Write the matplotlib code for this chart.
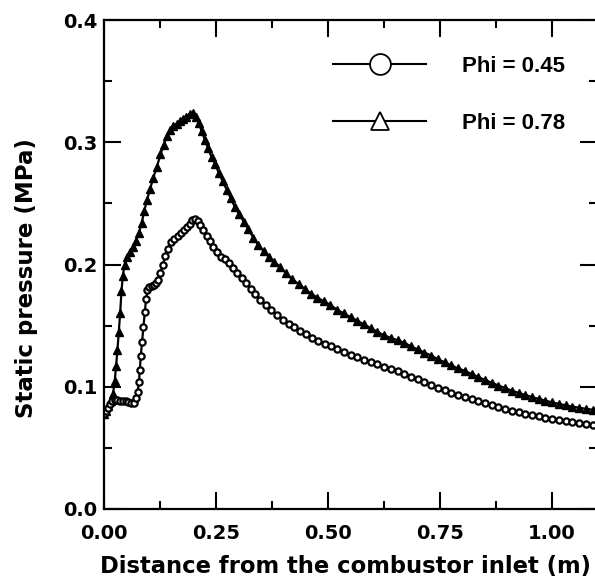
import matplotlib
matplotlib.use("Agg")
import matplotlib.pyplot as plt
from matplotlib.lines import Line2D
from matplotlib.ticker import MultipleLocator

# Phi = 0.78 (triangles, upper curve)
x_078 = [0.000, 0.005, 0.010, 0.015, 0.020, 0.024, 0.027, 0.030, 0.033, 0.036,
         0.039, 0.042, 0.046, 0.051, 0.057, 0.064, 0.071, 0.078, 0.084, 0.090,
         0.096, 0.103, 0.110, 0.118, 0.126, 0.133, 0.140, 0.148, 0.155, 0.162,
         0.170, 0.177, 0.184, 0.191, 0.198, 0.205, 0.211, 0.218, 0.225, 0.232,
         0.240, 0.248, 0.256, 0.265, 0.274, 0.283, 0.292, 0.302, 0.312, 0.322,
         0.333, 0.344, 0.356, 0.368, 0.380, 0.393, 0.406, 0.420, 0.434, 0.448,
         0.462, 0.476, 0.490, 0.505, 0.520, 0.535, 0.550, 0.565, 0.580, 0.595,
         0.610, 0.625, 0.640, 0.655, 0.670, 0.685, 0.700, 0.715, 0.730, 0.745,
         0.760, 0.775, 0.790, 0.805, 0.820, 0.835, 0.850, 0.865, 0.880, 0.895,
         0.910, 0.925, 0.940, 0.955, 0.970, 0.985, 1.000, 1.015, 1.030, 1.045,
         1.060, 1.075, 1.090, 1.105]
p_078 = [0.078, 0.080, 0.084, 0.088, 0.094, 0.105, 0.117, 0.130, 0.145, 0.160,
         0.178, 0.191, 0.200, 0.206, 0.210, 0.214, 0.219, 0.226, 0.234, 0.244,
         0.253, 0.262, 0.271, 0.280, 0.290, 0.298, 0.305, 0.310, 0.313, 0.315,
         0.317, 0.319, 0.321, 0.323, 0.324, 0.321, 0.316, 0.309, 0.302, 0.295,
         0.288, 0.282, 0.275, 0.268, 0.261, 0.254, 0.247, 0.241, 0.235, 0.229,
         0.222, 0.216, 0.211, 0.206, 0.202, 0.198, 0.193, 0.188, 0.184, 0.180,
         0.176, 0.173, 0.170, 0.167, 0.163, 0.160, 0.157, 0.154, 0.151, 0.148,
         0.145, 0.142, 0.140, 0.138, 0.136, 0.133, 0.1305, 0.128, 0.1255, 0.1225,
         0.120, 0.1175, 0.115, 0.113, 0.1105, 0.108, 0.1055, 0.1033, 0.1010, 0.0989,
         0.0968, 0.0950, 0.0932, 0.0916, 0.0900, 0.0886, 0.0872, 0.0860, 0.0848, 0.0838,
         0.0828, 0.0820, 0.0812, 0.0805]

# Phi = 0.45 (circles, lower curve)
x_045 = [0.000, 0.004, 0.008, 0.013, 0.018, 0.024, 0.030, 0.036, 0.042, 0.048,
         0.054, 0.060, 0.066, 0.071, 0.075, 0.078, 0.080, 0.082, 0.085, 0.088,
         0.091, 0.094, 0.097, 0.101, 0.106, 0.111, 0.116, 0.121, 0.126, 0.131,
         0.137, 0.143, 0.150, 0.157, 0.164, 0.171, 0.178, 0.185, 0.191, 0.197,
         0.203, 0.209, 0.215, 0.222, 0.229, 0.236, 0.244, 0.252, 0.261, 0.270,
         0.279, 0.288, 0.297, 0.307, 0.317, 0.327, 0.338, 0.349, 0.361, 0.373,
         0.386, 0.399, 0.412, 0.425, 0.438, 0.451, 0.464, 0.478, 0.492, 0.506,
         0.520, 0.535, 0.550, 0.565, 0.580, 0.595, 0.610, 0.625, 0.640, 0.655,
         0.670, 0.685, 0.700, 0.715, 0.730, 0.745, 0.760, 0.775, 0.790, 0.805,
         0.820, 0.835, 0.850, 0.865, 0.880, 0.895, 0.910, 0.925, 0.940, 0.955,
         0.970, 0.985, 1.000, 1.015, 1.030, 1.045, 1.060, 1.075, 1.090, 1.105]
p_045 = [0.078, 0.080, 0.083, 0.086, 0.088, 0.089, 0.0888, 0.0885, 0.0883, 0.0882,
         0.0878, 0.0866, 0.0870, 0.0905, 0.096, 0.104, 0.114, 0.125, 0.137, 0.149,
         0.161, 0.172, 0.179, 0.1815, 0.1825, 0.1835, 0.1850, 0.1875, 0.193, 0.200,
         0.207, 0.213, 0.218, 0.221, 0.2235, 0.226, 0.2285, 0.231, 0.2335, 0.236,
         0.2375, 0.2355, 0.2325, 0.228, 0.2235, 0.219, 0.2145, 0.2105, 0.2065, 0.2048,
         0.2010, 0.1970, 0.1930, 0.1890, 0.1850, 0.1800, 0.1755, 0.1710, 0.1665, 0.1625,
         0.1585, 0.1548, 0.1515, 0.1485, 0.1455, 0.1428, 0.1402, 0.1376, 0.1352, 0.1330,
         0.1308, 0.1284, 0.1260, 0.1240, 0.1220, 0.1202, 0.1185, 0.1165, 0.1145, 0.1125,
         0.1105, 0.1083, 0.1060, 0.1037, 0.1015, 0.0993, 0.0972, 0.0952, 0.0933, 0.0915,
         0.0897, 0.0880, 0.0864, 0.0848, 0.0833, 0.0818, 0.0804, 0.0791, 0.0779, 0.0768,
         0.0757, 0.0747, 0.0737, 0.0728, 0.0719, 0.0710, 0.0702, 0.0694, 0.0686, 0.0678]

x_ticks = [0.00, 0.25, 0.50, 0.75, 1.00]
y_ticks = [0.0, 0.1, 0.2, 0.3, 0.4]
legend_labels = ['Phi = 0.45', 'Phi = 0.78']

fig = plt.figure(figsize=(5.95, 5.86), dpi=100)
ax = fig.add_axes([104 / 595, 1 - 509 / 586, 493 / 595, 489 / 586])

ax.plot(x_078, p_078, '-', color='black', linewidth=1.6, marker='^',
        markersize=5.2, markerfacecolor='black', markeredgewidth=1.0)
ax.plot(x_045, p_045, '-', color='black', linewidth=1.6, marker='o',
        markersize=4.5, markerfacecolor='white', markeredgewidth=1.6)

ax.set_xlim(0, 1.1)
ax.set_ylim(0, 0.4)
ax.set_xticks(x_ticks)
ax.set_yticks(y_ticks)
ax.set_xticklabels([f'{v:.2f}' for v in x_ticks])
ax.set_yticklabels([f'{v:.1f}' for v in y_ticks])
ax.xaxis.set_minor_locator(MultipleLocator(0.125))
ax.yaxis.set_minor_locator(MultipleLocator(0.05))
ax.tick_params(which='both', direction='in', top=True, right=True, width=1.5)
ax.tick_params(which='major', length=12, labelsize=14)
ax.tick_params(which='minor', length=6)
ax.tick_params(axis='x', which='major', pad=11)
ax.tick_params(axis='y', which='major', pad=5)
for lbl in ax.get_xticklabels() + ax.get_yticklabels():
    lbl.set_fontweight('bold')
for s in ax.spines.values():
    s.set_linewidth(1.6)

ax.set_xlabel('Distance from the combustor inlet (m)', fontsize=16.3,
              fontweight='bold')
ax.set_ylabel('Static pressure (MPa)', fontsize=16.5, fontweight='bold')
ax.xaxis.set_label_coords(0.489, -0.095)
ax.yaxis.set_label_coords(-0.134, 0.472)

handles = [
    Line2D([], [], color='black', linewidth=1.5, marker='o', markersize=15,
           markerfacecolor='white', markeredgewidth=1.3),
    Line2D([], [], color='black', linewidth=1.5, marker='^', markersize=13,
           markerfacecolor='white', markeredgewidth=1.3),
]
leg = ax.legend(handles, legend_labels, loc='upper right',
                bbox_to_anchor=(0.976, 0.968), frameon=False, handlelength=4.2,
                handletextpad=1.6, labelspacing=1.62,
                prop={'family': 'Liberation Sans', 'weight': 'bold', 'size': 16})

fig.savefig('out.png', dpi=100)
